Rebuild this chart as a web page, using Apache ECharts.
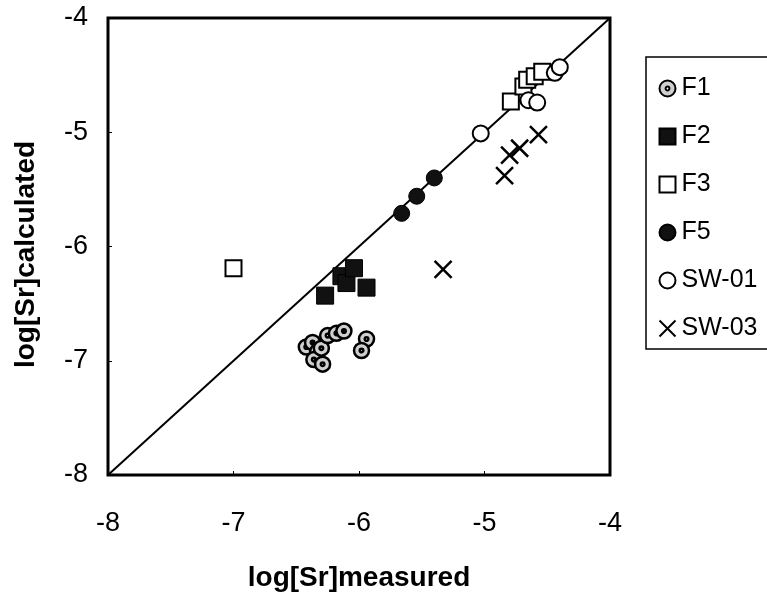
<!DOCTYPE html>
<html>
<head>
<meta charset="utf-8">
<script src="https://cdn.jsdelivr.net/npm/echarts@6/dist/echarts.min.js"></script>
<style>html,body{margin:0;padding:0;background:#fff;}#c{width:767px;height:597px;}</style>
</head>
<body>
<div id="c"></div>
<script>
const xTicks = [-8, -7, -6, -5, -4];
const yTicks = [-8, -7, -6, -5, -4];
const F1 = [[-6.42,-6.88],[-6.37,-6.84],[-6.33,-6.92],[-6.36,-6.99],[-6.29,-7.03],[-6.30,-6.89],[-6.25,-6.78],[-6.18,-6.76],[-6.12,-6.74],[-5.94,-6.81],[-5.98,-6.91]];
const F2 = [[-6.27,-6.43],[-6.14,-6.26],[-6.10,-6.32],[-6.04,-6.19],[-5.94,-6.36]];
const F3 = [[-7.00,-6.19],[-4.79,-4.73],[-4.69,-4.60],[-4.66,-4.54],[-4.60,-4.51],[-4.54,-4.47]];
const F5 = [[-5.66,-5.71],[-5.54,-5.56],[-5.40,-5.40]];
const SW01 = [[-5.03,-5.01],[-4.65,-4.72],[-4.58,-4.74],[-4.44,-4.48],[-4.40,-4.43]];
const SW03 = [[-5.33,-6.20],[-4.84,-5.38],[-4.80,-5.20],[-4.72,-5.14],[-4.57,-5.02]];
const oneToOne = [[-8,-8],[-4,-4]];

const ringPath = 'path://M50,0A50,50 0 1 1 49.99,0ZM50,38A12,12 0 1 0 50.01,38Z';
const crossPath = 'path://M0,0L10,10M10,0L0,10';
const font = 'Liberation Sans, Arial, sans-serif';

const chart = echarts.init(document.getElementById('c'), null, {renderer: 'canvas'});
chart.setOption({
  animation: false,
  backgroundColor: '#fff',
  grid: {left: 108, right: 157, top: 18, bottom: 122, show: true, borderColor: '#000', borderWidth: 3},
  xAxis: {
    type: 'value', min: -8, max: -4, interval: 1,
    name: 'log[Sr]measured', nameLocation: 'middle', nameGap: 89,
    nameTextStyle: {fontFamily: font, fontWeight: 'bold', fontSize: 28, color: '#000'},
    axisLine: {show: false}, splitLine: {show: false},
    axisTick: {show: true, inside: true, length: 4, lineStyle: {color: '#000'}},
    axisLabel: {fontFamily: font, fontSize: 27, color: '#000', margin: 35}
  },
  yAxis: {
    type: 'value', min: -8, max: -4, interval: 1,
    name: 'log[Sr]calculated', nameLocation: 'middle', nameGap: 68, nameRotate: 90,
    nameTextStyle: {fontFamily: font, fontWeight: 'bold', fontSize: 28, color: '#000', padding: [0, 0, 0, -16]},
    axisLine: {show: false}, splitLine: {show: false},
    axisTick: {show: true, inside: true, length: 4, lineStyle: {color: '#000'}},
    axisLabel: {fontFamily: font, fontSize: 27, color: '#000', margin: 20}
  },
  legend: {
    orient: 'vertical', left: 652, top: 71, itemGap: 23, itemWidth: 16, itemHeight: 16,
    data: ['F1','F2','F3','F5','SW-01','SW-03'],
    textStyle: {fontFamily: font, fontSize: 25, color: '#000', padding: [0,0,0,1]}
  },
  graphic: [{type: 'rect', shape: {x: 646, y: 57, width: 140, height: 292}, style: {fill: 'none', stroke: '#000', lineWidth: 1.5}, z: 100}],
  series: [
    {type: 'line', data: oneToOne, symbol: 'none', lineStyle: {color: '#000', width: 2}, silent: true, z: 1},
    {name: 'F1', type: 'scatter', data: F1, symbol: ringPath, symbolSize: 15, itemStyle: {color: '#cfcfcf', borderColor: '#000', borderWidth: 2.5, opacity: 1}},
    {name: 'F2', type: 'scatter', data: F2, symbol: 'rect', symbolSize: 17, itemStyle: {color: '#111', borderColor: '#000', borderWidth: 1, opacity: 1}},
    {name: 'F3', type: 'scatter', data: F3, symbol: 'rect', symbolSize: 16, itemStyle: {color: '#fff', borderColor: '#000', borderWidth: 2, opacity: 1}},
    {name: 'F5', type: 'scatter', data: F5, symbol: 'circle', symbolSize: 16, itemStyle: {color: '#111', borderColor: '#000', borderWidth: 1, opacity: 1}},
    {name: 'SW-01', type: 'scatter', data: SW01, symbol: 'circle', symbolSize: 16, itemStyle: {color: '#fff', borderColor: '#000', borderWidth: 2, opacity: 1}},
    {name: 'SW-03', type: 'scatter', data: SW03, symbol: crossPath, symbolSize: 17, itemStyle: {color: 'none', borderColor: '#000', borderWidth: 2.5, opacity: 1}}
  ]
});
</script>
</body>
</html>
